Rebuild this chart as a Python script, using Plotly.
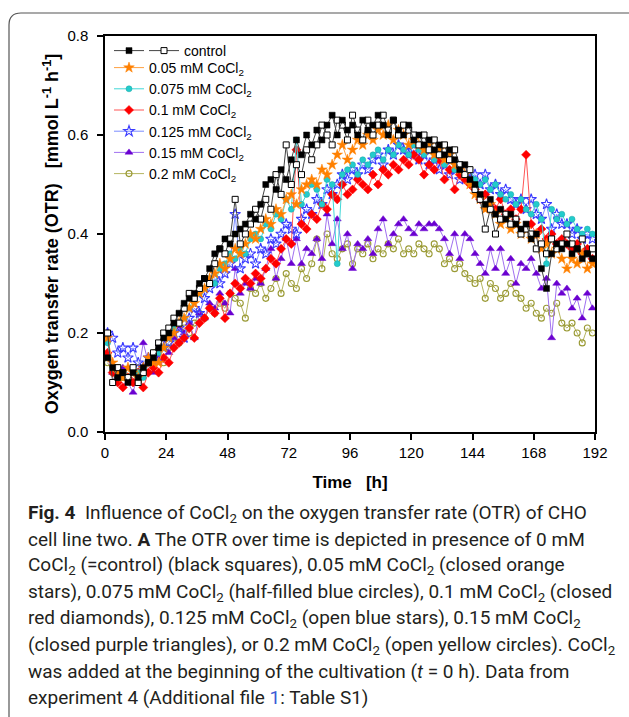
import plotly.graph_objects as go

time_h = [1, 3, 5, 7, 9, 11, 13, 15, 17, 19,
          21, 23, 25, 27, 29, 31, 33, 35, 37, 39,
          41, 43, 45, 47, 49, 51, 53, 55, 57, 59,
          61, 63, 65, 67, 69, 71, 73, 75, 77, 79,
          81, 83, 85, 87, 89, 91, 93, 95, 97, 99,
          101, 103, 105, 107, 109, 111, 113, 115, 117, 119,
          121, 123, 125, 127, 129, 131, 133, 135, 137, 139,
          141, 143, 145, 147, 149, 151, 153, 155, 157, 159,
          161, 163, 165, 167, 169, 171, 173, 175, 177, 179,
          181, 183, 185, 187, 189, 191]

ctrl_filled = [0.15, 0.13, 0.11, 0.12, 0.10, 0.12, 0.11, 0.13, 0.14, 0.15,
               0.17, 0.19, 0.20, 0.22, 0.24, 0.26, 0.27, 0.28, 0.30, 0.31,
               0.33, 0.36, 0.37, 0.39, 0.38, 0.40, 0.41, 0.42, 0.44, 0.43,
               0.46, 0.50, 0.51, 0.49, 0.53, 0.51, 0.55, 0.59, 0.56, 0.60,
               0.58, 0.61, 0.59, 0.62, 0.64, 0.60, 0.63, 0.61, 0.62, 0.60,
               0.63, 0.61, 0.62, 0.64, 0.62, 0.60, 0.63, 0.61, 0.60, 0.62,
               0.59, 0.60, 0.58, 0.59, 0.57, 0.58, 0.56, 0.57, 0.55, 0.53,
               0.54, 0.51, 0.50, 0.48, 0.46, 0.47, 0.44, 0.45, 0.43, 0.44,
               0.42, 0.41, 0.42, 0.39, 0.40, 0.33, 0.29, 0.36, 0.38, 0.37,
               0.38, 0.36, 0.37, 0.35, 0.36, 0.35]

ctrl_open = [0.20, 0.10, 0.13, 0.12, 0.11, 0.13, 0.10, 0.12, 0.14, 0.16,
             0.18, 0.20, 0.21, 0.23, 0.22, 0.25, 0.28, 0.27, 0.29, 0.31,
             0.30, 0.34, 0.37, 0.36, 0.39, 0.47, 0.38, 0.40, 0.42, 0.45,
             0.43, 0.47, 0.45, 0.52, 0.48, 0.58, 0.50, 0.54, 0.52, 0.57,
             0.55, 0.58, 0.62, 0.60, 0.58, 0.63, 0.62, 0.59, 0.64, 0.61,
             0.59, 0.63, 0.60, 0.62, 0.64, 0.61, 0.63, 0.60, 0.62, 0.61,
             0.60, 0.58, 0.60, 0.57, 0.59, 0.56, 0.58, 0.55, 0.57, 0.54,
             0.52, 0.53, 0.49, 0.47, 0.41, 0.45, 0.40, 0.43, 0.44, 0.42,
             0.43, 0.40, 0.41, 0.40, 0.37, 0.38, 0.36, 0.39, 0.37, 0.38,
             0.40, 0.38, 0.37, 0.39, 0.36, 0.37]

cocl_005 = [0.19, 0.14, 0.12, 0.11, 0.13, 0.12, 0.11, 0.13, 0.15, 0.14,
            0.14, 0.17, 0.19, 0.20, 0.22, 0.23, 0.25, 0.26, 0.28, 0.29,
            0.31, 0.32, 0.34, 0.33, 0.35, 0.37, 0.36, 0.38, 0.40, 0.39,
            0.41, 0.43, 0.42, 0.45, 0.44, 0.47, 0.48, 0.46, 0.49, 0.50,
            0.51, 0.50, 0.53, 0.52, 0.54, 0.56, 0.58, 0.55, 0.57, 0.59,
            0.58, 0.60, 0.59, 0.61, 0.60, 0.62, 0.59, 0.61, 0.60, 0.58,
            0.59, 0.58, 0.57, 0.58, 0.56, 0.57, 0.55, 0.56, 0.54, 0.53,
            0.52, 0.50, 0.48, 0.47, 0.45, 0.46, 0.44, 0.42, 0.43, 0.41,
            0.42, 0.40, 0.41, 0.39, 0.40, 0.37, 0.38, 0.36, 0.37, 0.35,
            0.33, 0.35, 0.34, 0.36, 0.33, 0.34]

cocl_0075 = [0.18, 0.13, 0.11, 0.12, 0.11, 0.13, 0.12, 0.11, 0.14, 0.15,
             0.16, 0.17, 0.19, 0.21, 0.22, 0.23, 0.25, 0.27, 0.28, 0.29,
             0.31, 0.30, 0.33, 0.34, 0.36, 0.35, 0.37, 0.36, 0.39, 0.40,
             0.39, 0.42, 0.41, 0.44, 0.43, 0.47, 0.45, 0.59, 0.46, 0.48,
             0.50, 0.49, 0.46, 0.51, 0.50, 0.34, 0.52, 0.53, 0.54, 0.52,
             0.55, 0.54, 0.56, 0.57, 0.55, 0.57, 0.56, 0.58, 0.57, 0.56,
             0.58, 0.57, 0.56, 0.57, 0.55, 0.56, 0.54, 0.55, 0.53, 0.54,
             0.52, 0.53, 0.51, 0.50, 0.51, 0.49, 0.50, 0.48, 0.47, 0.48,
             0.46, 0.47, 0.45, 0.44, 0.46, 0.43, 0.34, 0.45, 0.43, 0.44,
             0.42, 0.43, 0.41, 0.40, 0.41, 0.40]

cocl_01 = [0.16, 0.12, 0.10, 0.09, 0.11, 0.10, 0.12, 0.09, 0.12, 0.13,
           0.12, 0.15, 0.14, 0.17, 0.18, 0.19, 0.21, 0.19, 0.22, 0.23,
           0.25, 0.24, 0.27, 0.23, 0.28, 0.30, 0.29, 0.31, 0.30, 0.32,
           0.31, 0.33, 0.35, 0.34, 0.37, 0.39, 0.38, 0.57, 0.42, 0.41,
           0.44, 0.43, 0.46, 0.45, 0.48, 0.47, 0.50, 0.48, 0.49, 0.51,
           0.50, 0.49, 0.52, 0.50, 0.53, 0.52, 0.54, 0.53, 0.55, 0.54,
           0.56, 0.55, 0.52, 0.54, 0.53, 0.55, 0.51, 0.53, 0.49, 0.52,
           0.51, 0.50, 0.49, 0.47, 0.48, 0.46, 0.45, 0.47, 0.44, 0.45,
           0.43, 0.45, 0.56, 0.42, 0.40, 0.41, 0.39, 0.40, 0.38, 0.39,
           0.38, 0.37, 0.38, 0.36, 0.37, 0.35]

cocl_0125 = [0.20, 0.19, 0.16, 0.17, 0.15, 0.17, 0.14, 0.13, 0.15, 0.14,
             0.15, 0.17, 0.18, 0.20, 0.21, 0.19, 0.23, 0.25, 0.24, 0.27,
             0.29, 0.31, 0.30, 0.32, 0.34, 0.44, 0.33, 0.35, 0.36, 0.34,
             0.37, 0.36, 0.39, 0.38, 0.40, 0.42, 0.41, 0.40, 0.43, 0.45,
             0.44, 0.47, 0.46, 0.49, 0.48, 0.50, 0.52, 0.51, 0.53, 0.52,
             0.54, 0.53, 0.55, 0.56, 0.54, 0.57, 0.56, 0.58, 0.57, 0.56,
             0.57, 0.55, 0.56, 0.54, 0.55, 0.53, 0.54, 0.52, 0.53, 0.51,
             0.53, 0.51, 0.52, 0.50, 0.52, 0.49, 0.50, 0.48, 0.49, 0.47,
             0.46, 0.47, 0.45, 0.47, 0.44, 0.43, 0.46, 0.41, 0.44, 0.42,
             0.42, 0.40, 0.41, 0.39, 0.40, 0.39]

cocl_015 = [0.15, 0.12, 0.11, 0.13, 0.10, 0.08, 0.12, 0.18, 0.14, 0.12,
            0.15, 0.17, 0.16, 0.19, 0.21, 0.20, 0.22, 0.19, 0.24, 0.23,
            0.26, 0.25, 0.28, 0.26, 0.24, 0.33, 0.28, 0.30, 0.29, 0.31,
            0.30, 0.33, 0.37, 0.31, 0.35, 0.39, 0.34, 0.39, 0.34, 0.37,
            0.36, 0.39, 0.35, 0.44, 0.38, 0.43, 0.37, 0.40, 0.33, 0.38,
            0.37, 0.39, 0.36, 0.41, 0.43, 0.38, 0.40, 0.42, 0.43, 0.41,
            0.40, 0.42, 0.41, 0.42, 0.42, 0.41, 0.39, 0.36, 0.40, 0.35,
            0.40, 0.39, 0.36, 0.34, 0.32, 0.37, 0.33, 0.37, 0.32, 0.35,
            0.30, 0.34, 0.33, 0.35, 0.32, 0.29, 0.31, 0.19, 0.30, 0.28,
            0.29, 0.25, 0.27, 0.23, 0.28, 0.25]

cocl_02 = [0.14, 0.12, 0.13, 0.11, 0.12, 0.10, 0.13, 0.12, 0.15, 0.16,
           0.16, 0.14, 0.17, 0.19, 0.18, 0.21, 0.20, 0.22, 0.24, 0.23,
           0.25, 0.24, 0.26, 0.25, 0.28, 0.27, 0.26, 0.23, 0.29, 0.28,
           0.30, 0.27, 0.29, 0.31, 0.28, 0.32, 0.30, 0.29, 0.33, 0.31,
           0.34, 0.39, 0.33, 0.40, 0.36, 0.35, 0.37, 0.38, 0.34, 0.37,
           0.36, 0.38, 0.35, 0.37, 0.36, 0.38, 0.37, 0.39, 0.36, 0.37,
           0.36, 0.38, 0.37, 0.36, 0.38, 0.37, 0.34, 0.35, 0.33, 0.34,
           0.32, 0.31, 0.30, 0.31, 0.27, 0.30, 0.29, 0.27, 0.28, 0.30,
           0.28, 0.27, 0.25, 0.26, 0.24, 0.23, 0.25, 0.24, 0.26, 0.22,
           0.21, 0.22, 0.20, 0.18, 0.21, 0.20]

x_ticks = [0, 24, 48, 72, 96, 120, 144, 168, 192]
y_ticks = [0.0, 0.2, 0.4, 0.6, 0.8]
y_ticktext = ["0.0", "0.2", "0.4", "0.6", "0.8"]

# plot-area pixel geometry helpers (layout only)
PL, PR, PT, PB = 105, 595, 36, 432
def fx(px):
    return (px - PL) / (PR - PL)
def fy(py):
    return (PB - py) / (PB - PT)

AX_FONT = "Arial"

fig = go.Figure()

series = [
    # name, data, symbol, size, fill, edge, line color, rank
    ("0.2 mM CoCl<sub>2</sub>", cocl_02, "circle-open", 6, "#999933", "#999933", "#B5B560", 7),
    ("0.15 mM CoCl<sub>2</sub>", cocl_015, "triangle-up", 7, "#6a00d0", "#6a00d0", "#A070F0", 6),
    ("0.125 mM CoCl<sub>2</sub>", cocl_0125, "star-open", 8, "#3a3aff", "#3a3aff", "#7A8CFF", 5),
    ("0.1 mM CoCl<sub>2</sub>", cocl_01, "diamond", 7, "#ff0000", "#ff0000", "#FF5555", 4),
    ("0.075 mM CoCl<sub>2</sub>", cocl_0075, "circle", 6, "#22cccc", "#1aa5a5", "#40D8D8", 3),
    ("0.05 mM CoCl<sub>2</sub>", cocl_005, "star", 8, "#ff8000", "#ff8000", "#FFA040", 2),
]
for name, vals, sym, size, fill, edge, lc, rank in series:
    lw = 1.1 if "open" in sym else 0.5
    fig.add_trace(go.Scatter(
        x=time_h, y=vals, name=name, mode="lines+markers",
        line=dict(color=lc, width=1),
        marker=dict(symbol=sym, size=size, color=fill,
                    line=dict(color=edge, width=lw)),
        legend="legend", legendrank=rank))

fig.add_trace(go.Scatter(
    x=time_h, y=ctrl_open, name="control", mode="lines+markers",
    line=dict(color="#444444", width=1),
    marker=dict(symbol="square", size=6, color="white",
                line=dict(color="black", width=1)),
    legend="legend3"))
fig.add_trace(go.Scatter(
    x=time_h, y=ctrl_filled, name="", mode="lines+markers",
    line=dict(color="#444444", width=1),
    marker=dict(symbol="square", size=6, color="black",
                line=dict(color="black", width=0.5)),
    legend="legend2"))

# outer rounded frame
x0, y0, r = 9, 13, 12
frame_path = (f"M {fx(x0)},{fy(740)} L {fx(x0)},{fy(y0 + r)} "
              f"Q {fx(x0)},{fy(y0)} {fx(x0 + r)},{fy(y0)} L {fx(660)},{fy(y0)}")
fig.add_shape(type="path", path=frame_path, xref="paper", yref="paper",
              line=dict(color="#555555", width=1.2), layer="below")

caption = [
    "<b>Fig. 4</b>  Influence of CoCl<sub>2</sub> on the oxygen transfer rate (OTR) of CHO",
    "cell line two. <b>A</b> The OTR over time is depicted in presence of 0 mM",
    "CoCl<sub>2</sub> (=control) (black squares), 0.05 mM CoCl<sub>2</sub> (closed orange",
    "stars), 0.075 mM CoCl<sub>2</sub> (half-filled blue circles), 0.1 mM CoCl<sub>2</sub> (closed",
    "red diamonds), 0.125 mM CoCl<sub>2</sub> (open blue stars), 0.15 mM CoCl<sub>2</sub>",
    "(closed purple triangles), or 0.2 mM CoCl<sub>2</sub> (open yellow circles). CoCl<sub>2</sub>",
    "was added at the beginning of the cultivation (<i>t</i> = 0 h). Data from",
    "experiment 4 (Additional file <span style='color:#3b5bd6'>1</span>: Table S1)",
]
cap_y0, cap_dy = 513, 26.4
for i, line in enumerate(caption):
    fig.add_annotation(text=line, xref="paper", yref="paper",
                       x=fx(26), y=fy(cap_y0 + i * cap_dy),
                       xanchor="left", yanchor="middle", showarrow=False,
                       align="left",
                       font=dict(family="Roboto", size=19, color="#231f20"))

leg_font = dict(family=AX_FONT, size=14, color="black")
fig.update_layout(
    width=629, height=717,
    margin=dict(l=PL, r=629 - PR, t=PT, b=717 - PB, pad=0),
    paper_bgcolor="white", plot_bgcolor="white",
    showlegend=True,
    legend=dict(x=fx(109), y=fy(52), xanchor="left", yanchor="top",
                bgcolor="rgba(0,0,0,0)", tracegroupgap=0, font=leg_font),
    legend2=dict(x=fx(109), y=fy(35), xanchor="left", yanchor="top",
                 bgcolor="rgba(0,0,0,0)", font=leg_font),
    legend3=dict(x=fx(144), y=fy(35), xanchor="left", yanchor="top",
                 bgcolor="rgba(0,0,0,0)", font=leg_font),
    xaxis=dict(range=[0, 192], tickvals=x_ticks, ticktext=[str(v) for v in x_ticks],
               showgrid=False, zeroline=False, showline=True, mirror=True,
               linecolor="black", linewidth=1.5, ticks="outside", ticklen=6,
               tickwidth=1.5, tickcolor="black",
               tickfont=dict(family=AX_FONT, size=15, color="black"),
               title=dict(text="<b>Time   [h]</b>", standoff=16,
                          font=dict(family=AX_FONT, size=17, color="black"))),
    yaxis=dict(range=[0, 0.8], tickvals=y_ticks, ticktext=y_ticktext,
               showgrid=False, zeroline=False, showline=True, mirror=True,
               linecolor="black", linewidth=1.5, ticks="outside", ticklen=6,
               tickwidth=1.5, tickcolor="black", ticklabelstandoff=6,
               tickfont=dict(family=AX_FONT, size=15, color="black"),
               title=dict(text="<b>Oxygen transfer rate (OTR)   [mmol L<sup>-1</sup> h<sup>-1</sup>]</b>",
                          standoff=4,
                          font=dict(family=AX_FONT, size=18, color="black"))),
)

fig.write_html("out.html")
